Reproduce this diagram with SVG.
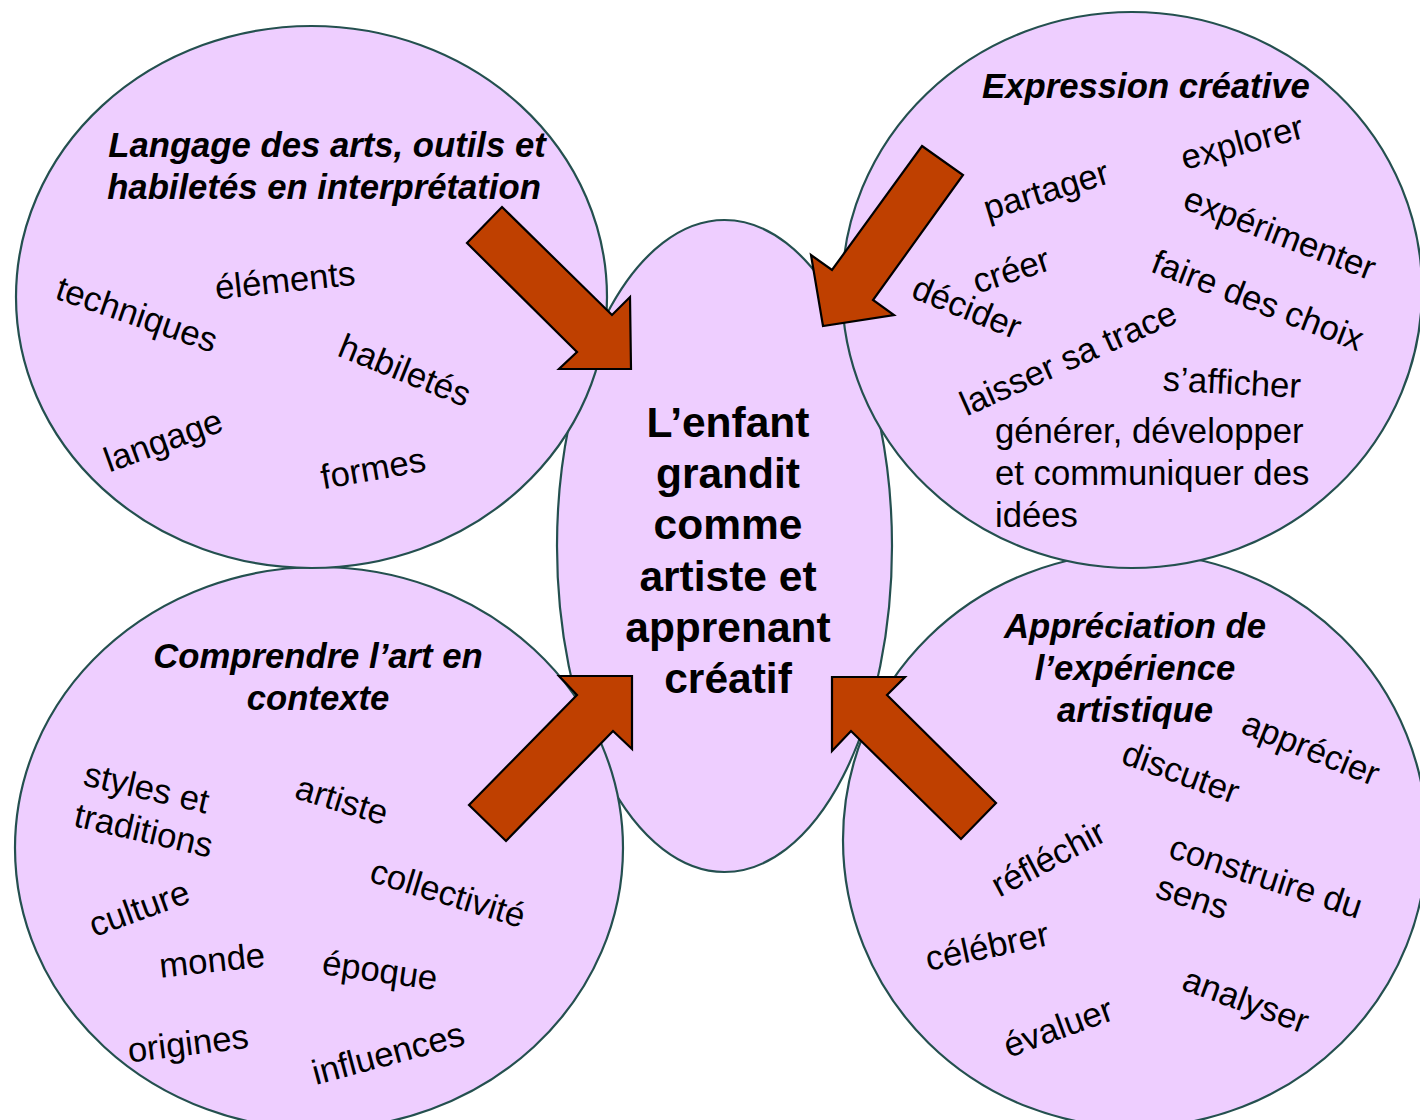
<svg xmlns="http://www.w3.org/2000/svg" width="1420" height="1120" viewBox="0 0 1420 1120">
<style>
.bub{fill:#EECEFF;stroke:#24504F;stroke-width:2.2}
.arr{fill:#BF4000;stroke:#000;stroke-width:2.2;stroke-linejoin:miter}
text{font-family:"Liberation Sans",Arial,sans-serif;fill:#000}
.t{font-size:34.7px;font-weight:bold;font-style:italic;text-anchor:middle}
.w{font-size:34.7px;text-anchor:middle}
.ws{font-size:34.7px}
.c{font-size:42.5px;font-weight:bold;text-anchor:middle}
</style>
<rect width="1420" height="1120" fill="#fff"/>
<g id="centre">
<ellipse class="bub" cx="724.5" cy="546" rx="167.5" ry="326"/>
<text class="c"><tspan x="728" y="437">L’enfant</tspan><tspan x="728" y="488">grandit</tspan><tspan x="728" y="539">comme</tspan><tspan x="728" y="591">artiste et</tspan><tspan x="728" y="642">apprenant</tspan><tspan x="728" y="693">créatif</tspan></text>
</g>
<g id="comprendre">
<ellipse class="bub" cx="319" cy="848" rx="304" ry="281"/>
<text class="t"><tspan x="318" y="668">Comprendre l’art en</tspan><tspan x="318" y="710">contexte</tspan></text>
<text class="ws" transform="translate(82,785) rotate(13)"><tspan x="0" y="0">styles et</tspan><tspan x="0" y="42">traditions</tspan></text>
<text class="w" dy="0.35em" transform="translate(342,800) rotate(17)">artiste</text>
<text class="w" dy="0.35em" transform="translate(448,893) rotate(17)">collectivité</text>
<text class="w" dy="0.35em" transform="translate(139,908) rotate(-20)">culture</text>
<text class="w" dy="0.35em" transform="translate(212,960) rotate(-6)">monde</text>
<text class="w" dy="0.35em" transform="translate(380,970) rotate(8)">époque</text>
<text class="w" dy="0.35em" transform="translate(188,1043) rotate(-7)">origines</text>
<text class="w" dy="0.35em" transform="translate(388,1053) rotate(-15)">influences</text>
</g>
<g id="appreciation">
<ellipse class="bub" cx="1135" cy="840" rx="292" ry="287"/>
<text class="t"><tspan x="1135" y="638">Appréciation de</tspan><tspan x="1135" y="680">l’expérience</tspan><tspan x="1135" y="722">artistique</tspan></text>
<text class="w" dy="0.35em" transform="translate(1311,748) rotate(22)">apprécier</text>
<text class="w" dy="0.35em" transform="translate(1181,772) rotate(20)">discuter</text>
<text class="w" dy="0.35em" transform="translate(1048,858) rotate(-28)">réfléchir</text>
<text class="ws" transform="translate(1167,857) rotate(18)"><tspan x="0" y="0">construire du</tspan><tspan x="0" y="42">sens</tspan></text>
<text class="w" dy="0.35em" transform="translate(987,946) rotate(-12)">célébrer</text>
<text class="w" dy="0.35em" transform="translate(1246,1000) rotate(20)">analyser</text>
<text class="w" dy="0.35em" transform="translate(1058,1027) rotate(-20)">évaluer</text>
</g>
<g id="langage">
<ellipse class="bub" cx="311.5" cy="297" rx="295.5" ry="271"/>
<text class="t"><tspan x="327" y="157">Langage des arts, outils et</tspan><tspan x="324" y="199">habiletés en interprétation</tspan></text>
<text class="w" dy="0.35em" transform="translate(137,314) rotate(19)">techniques</text>
<text class="w" dy="0.35em" transform="translate(285,280) rotate(-6)">éléments</text>
<text class="w" dy="0.35em" transform="translate(405,370) rotate(22)">habiletés</text>
<text class="w" dy="0.35em" transform="translate(163,440) rotate(-20)">langage</text>
<text class="w" dy="0.35em" transform="translate(373,468) rotate(-10)">formes</text>
</g>
<g id="expression">
<ellipse class="bub" cx="1132" cy="290" rx="290" ry="278"/>
<text class="t" x="1146" y="98">Expression créative</text>
<text class="w" dy="0.35em" transform="translate(1242,142) rotate(-15)">explorer</text>
<text class="w" dy="0.35em" transform="translate(1046,190) rotate(-17)">partager</text>
<text class="w" dy="0.35em" transform="translate(1280,233) rotate(21)">expérimenter</text>
<text class="w" dy="0.35em" transform="translate(1258,300) rotate(21)">faire des choix</text>
<text class="w" dy="0.35em" transform="translate(1011,270) rotate(-18)">créer</text>
<text class="w" dy="0.35em" transform="translate(967,307) rotate(22)">décider</text>
<text class="w" dy="0.35em" transform="translate(1068,358) rotate(-24)">laisser sa trace</text>
<text class="w" dy="0.35em" transform="translate(1232,382) rotate(3)">s’afficher</text>
<text class="ws"><tspan x="995" y="443">générer, développer</tspan><tspan x="995" y="485">et communiquer des</tspan><tspan x="995" y="527">idées</tspan></text>
</g>
<g id="connectors">
<polygon class="arr" points="502,207 612,315 630,297 631,369 559,369 577,352 467,243"/>
<polygon class="arr" points="922,146 963,175 873,300 894,315 823,326 811,255 832,270"/>
<polygon class="arr" points="469,805 577,695 559,676 632,676 632,749 613,731 506,841"/>
<polygon class="arr" points="832,677 905,677 887,695 996,803 961,839 851,731 832,751"/>
</g>
</svg>
